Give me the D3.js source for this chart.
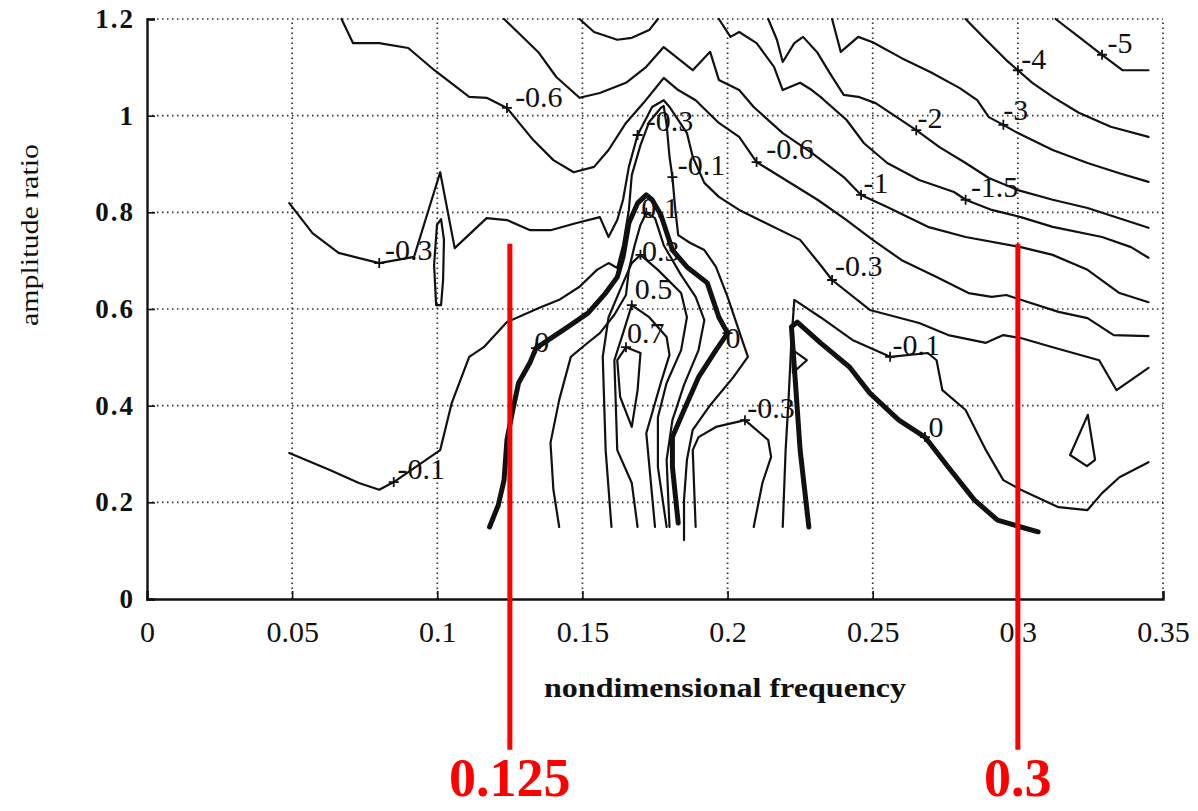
<!DOCTYPE html>
<html><head><meta charset="utf-8">
<script src="https://cdn.jsdelivr.net/npm/d3@7"></script>
<style>body{margin:0;background:#fff}svg{display:block}</style>
</head><body>
<svg id="c" width="1198" height="811"></svg>
<script>
// ---------- data (frequency, amplitude ratio) ----------
const xTicks = [0, 0.05, 0.1, 0.15, 0.2, 0.25, 0.3, 0.35];
const xTickLabels = ["0", "0.05", "0.1", "0.15", "0.2", "0.25", "0.3", "0.35"];
const yTicks = [0, 0.2, 0.4, 0.6, 0.8, 1, 1.2];
const yTickLabels = ["0", "0.2", "0.4", "0.6", "0.8", "1", "1.2"];

const cM06 = [[0.067,1.2],[0.071,1.150],[0.080,1.150],[0.090,1.140],[0.099,1.094],[0.111,1.039],[0.117,1.037],[0.124,1.016],[0.133,0.950],[0.140,0.908],[0.147,0.883],[0.154,0.894],[0.159,0.929],[0.165,0.985],[0.171,1.026],[0.178,1.078],[0.183,1.053],[0.189,1.032],[0.197,0.985],[0.204,0.956],[0.210,0.904],[0.220,0.867],[0.231,0.826],[0.241,0.784],[0.250,0.743],[0.260,0.701],[0.272,0.666],[0.283,0.633],[0.291,0.625],[0.296,0.629],[0.301,0.619],[0.314,0.594],[0.324,0.581],[0.333,0.546],[0.345,0.544]];
const cM1 = [[0.123,1.2],[0.128,1.171],[0.135,1.130],[0.141,1.080],[0.149,1.037],[0.156,1.047],[0.165,1.068],[0.172,1.101],[0.178,1.142],[0.188,1.094],[0.194,1.132],[0.197,1.074],[0.204,1.053],[0.209,1.018],[0.219,0.964],[0.229,0.923],[0.240,0.873],[0.246,0.836],[0.255,0.811],[0.269,0.770],[0.282,0.749],[0.301,0.728],[0.312,0.712],[0.324,0.681],[0.335,0.633],[0.345,0.614]];
const cM15 = [[0.197,1.2],[0.201,1.163],[0.204,1.173],[0.210,1.150],[0.216,1.101],[0.219,1.053],[0.225,1.068],[0.229,1.053],[0.232,1.039],[0.241,0.991],[0.247,0.943],[0.255,0.902],[0.266,0.867],[0.278,0.842],[0.282,0.826],[0.291,0.805],[0.301,0.790],[0.312,0.770],[0.329,0.749],[0.339,0.728],[0.345,0.706]];
const cM15b = [[0.149,1.2],[0.154,1.173],[0.162,1.157],[0.167,1.161],[0.173,1.177],[0.176,1.2]];
const cM2 = [[0.214,1.2],[0.217,1.157],[0.219,1.111],[0.223,1.150],[0.226,1.163],[0.231,1.130],[0.235,1.090],[0.240,1.043],[0.245,1.039],[0.251,1.026],[0.265,0.970],[0.273,0.935],[0.282,0.902],[0.290,0.871],[0.300,0.846],[0.312,0.826],[0.324,0.809],[0.345,0.768]];
const cM3 = [[0.236,1.2],[0.239,1.132],[0.245,1.163],[0.250,1.152],[0.260,1.119],[0.270,1.090],[0.280,1.057],[0.286,1.032],[0.290,0.997],[0.295,0.981],[0.300,0.964],[0.312,0.929],[0.324,0.902],[0.335,0.881],[0.345,0.863]];
const cM4 = [[0.282,1.2],[0.289,1.157],[0.296,1.115],[0.300,1.094],[0.305,1.068],[0.312,1.039],[0.321,1.006],[0.332,0.977],[0.345,0.956]];
const cM5 = [[0.313,1.2],[0.321,1.163],[0.329,1.126],[0.336,1.094],[0.345,1.094]];
const cM03 = [[0.049,0.819],[0.057,0.757],[0.066,0.716],[0.080,0.695],[0.092,0.708],[0.101,0.883],[0.106,0.726],[0.117,0.788],[0.124,0.784],[0.132,0.763],[0.139,0.763],[0.148,0.778],[0.156,0.790],[0.159,0.749],[0.162,0.784],[0.164,0.826],[0.166,0.894],[0.169,0.960],[0.174,1.018],[0.178,1.032],[0.180,1.018],[0.186,0.964],[0.188,0.915],[0.192,0.861],[0.197,0.832],[0.204,0.805],[0.211,0.784],[0.225,0.743],[0.232,0.691],[0.236,0.660],[0.249,0.598],[0.266,0.571],[0.276,0.546],[0.289,0.530],[0.295,0.546],[0.301,0.540],[0.312,0.521],[0.328,0.494],[0.334,0.432],[0.345,0.478]];
const cM03loop = [[0.0996,0.608],[0.0989,0.691],[0.0999,0.774],[0.1013,0.786],[0.1023,0.743],[0.1020,0.660],[0.1013,0.608]];
const cM01L = [[0.049,0.302],[0.063,0.267],[0.073,0.240],[0.080,0.226],[0.085,0.242],[0.101,0.308],[0.105,0.406],[0.111,0.501],[0.116,0.521],[0.124,0.573],[0.135,0.602],[0.142,0.619],[0.149,0.646],[0.155,0.681],[0.159,0.695],[0.162,0.685],[0.164,0.732],[0.166,0.805],[0.167,0.877],[0.170,0.939],[0.173,0.987],[0.177,1.016],[0.178,1.020],[0.179,0.981],[0.180,0.915],[0.181,0.873],[0.182,0.805],[0.183,0.753],[0.187,0.737],[0.192,0.722],[0.196,0.687],[0.200,0.625],[0.205,0.536],[0.207,0.501],[0.202,0.459],[0.194,0.401],[0.188,0.350],[0.186,0.288],[0.185,0.205],[0.185,0.122]];
const c0L = [[0.118,0.149],[0.121,0.194],[0.123,0.246],[0.124,0.329],[0.126,0.391],[0.128,0.447],[0.132,0.490],[0.134,0.519],[0.145,0.563],[0.152,0.592],[0.158,0.633],[0.162,0.666],[0.164,0.708],[0.166,0.778],[0.169,0.819],[0.172,0.836],[0.174,0.826],[0.177,0.795],[0.181,0.722],[0.186,0.687],[0.193,0.654],[0.197,0.583],[0.200,0.550],[0.196,0.515],[0.190,0.459],[0.185,0.391],[0.181,0.335],[0.181,0.273],[0.183,0.157]];
const c01 = [[0.142,0.149],[0.140,0.226],[0.139,0.323],[0.142,0.412],[0.146,0.501],[0.151,0.526],[0.156,0.550],[0.161,0.588],[0.165,0.629],[0.166,0.681],[0.168,0.732],[0.170,0.774],[0.172,0.799],[0.175,0.788],[0.178,0.732],[0.184,0.670],[0.189,0.625],[0.192,0.577],[0.190,0.515],[0.185,0.443],[0.181,0.370],[0.179,0.288],[0.180,0.149]];
const c03 = [[0.160,0.149],[0.158,0.308],[0.157,0.501],[0.159,0.583],[0.164,0.654],[0.167,0.695],[0.170,0.712],[0.176,0.681],[0.184,0.633],[0.186,0.583],[0.184,0.515],[0.179,0.447],[0.176,0.376],[0.176,0.273],[0.179,0.149]];
const c05 = [[0.169,0.149],[0.167,0.240],[0.162,0.308],[0.161,0.494],[0.164,0.550],[0.167,0.608],[0.173,0.583],[0.179,0.542],[0.180,0.505],[0.177,0.447],[0.172,0.343],[0.175,0.149]];
const c07 = [[0.165,0.521],[0.170,0.509],[0.169,0.432],[0.167,0.356],[0.163,0.418],[0.162,0.494]];
const cM03dome = [[0.189,0.149],[0.188,0.308],[0.190,0.335],[0.196,0.356],[0.206,0.370],[0.214,0.329],[0.215,0.294],[0.212,0.240],[0.209,0.149]];
const cM01R = [[0.219,0.149],[0.220,0.308],[0.221,0.412],[0.222,0.536],[0.223,0.619],[0.232,0.583],[0.243,0.536],[0.256,0.501],[0.269,0.509],[0.272,0.494],[0.274,0.432],[0.282,0.391],[0.289,0.308],[0.295,0.246],[0.301,0.226],[0.314,0.190],[0.324,0.184],[0.329,0.219],[0.335,0.252],[0.345,0.283]];
const c0R = [[0.228,0.149],[0.225,0.308],[0.223,0.480],[0.222,0.563],[0.224,0.573],[0.232,0.530],[0.242,0.480],[0.249,0.426],[0.259,0.370],[0.268,0.335],[0.276,0.273],[0.285,0.205],[0.293,0.163],[0.301,0.149],[0.307,0.139]];
const cLoopA = [[0.2225,0.515],[0.2273,0.494],[0.2225,0.468]];
const cLoopB = [[0.3241,0.381],[0.3266,0.288],[0.3238,0.275],[0.318,0.298]];

const openThin = [cM06, cM1, cM15, cM15b, cM2, cM3, cM4, cM5, cM03, cM01L, c01, c03, c05, cM03dome, cM01R];
const openThick = [c0L, c0R];
const closedThin = [cM03loop, c07, cLoopA, cLoopB];

const labelText = ["-0.6","-0.6","-1","-2","-1.5","-3","-4","-5","-0.3","-0.3","-0.1","0.1","0.3","0.5","0.7","0","0","-0.3","-0.1","0","-0.3","-0.1"];
const labelX = [0.135,0.2215,0.2511,0.2697,0.2920,0.2993,0.3055,0.3352,0.0902,0.1800,0.1910,0.1767,0.1770,0.1745,0.1718,0.1360,0.2019,0.2452,0.2650,0.2718,0.2150,0.0945];
const labelY = [1.039,0.933,0.861,0.997,0.854,1.012,1.119,1.152,0.724,0.991,0.898,0.811,0.722,0.643,0.552,0.532,0.542,0.689,0.526,0.356,0.397,0.271];

const markerPts = [[0.124,1.016],[0.210,0.904],[0.246,0.836],[0.265,0.970],[0.282,0.826],[0.295,0.981],[0.300,1.094],[0.329,1.126],[0.080,0.695],[0.169,0.960],[0.181,0.873],[0.172,0.799],[0.170,0.712],[0.167,0.608],[0.165,0.521],[0.134,0.519],[0.200,0.550],[0.236,0.660],[0.256,0.501],[0.268,0.335],[0.206,0.370],[0.085,0.242]];

const refLines = [0.125, 0.3];
const refLabels = ["0.125", "0.3"];
const refTop = 0.735, refBottom = -0.312, refTextY = -0.408;

// ---------- drawing ----------
const svg = d3.select("#c");
const x = d3.scaleLinear().domain([0, 0.35]).range([147, 1163]);
const y = d3.scaleLinear().domain([0, 1.2]).range([599, 19]);
const serif = "'Liberation Serif','DejaVu Serif',serif";

// grid (dotted)
const grid = svg.append("g").attr("stroke", "#333").attr("stroke-width", 1.7).attr("stroke-dasharray", "1.5,3.5");
grid.selectAll(".gx").data(xTicks.slice(1)).join("line")
  .attr("x1", d => x(d)).attr("x2", d => x(d)).attr("y1", y(0)).attr("y2", y(1.2));
grid.selectAll(".gy").data(yTicks.slice(1)).join("line")
  .attr("y1", d => y(d)).attr("y2", d => y(d)).attr("x1", x(0)).attr("x2", x(0.35));

// axes
const xAxis = d3.axisBottom(x).tickValues(xTicks).tickSize(-8).tickFormat((d, i) => xTickLabels[i]).tickPadding(16);
const gx = svg.append("g").attr("transform", `translate(0,${y(0)})`).call(xAxis);
gx.select(".domain").attr("stroke", "#111").attr("stroke-width", 2.4);
gx.selectAll(".tick line").attr("stroke", "#111").attr("stroke-width", 1.6);
gx.selectAll(".tick text").attr("font-family", serif).attr("font-size", 30).attr("fill", "#111").attr("dy", "0.9em");

const yAxis = d3.axisLeft(y).tickValues(yTicks).tickSize(-8).tickFormat((d, i) => yTickLabels[i]).tickPadding(12);
const gy = svg.append("g").attr("transform", `translate(${x(0)},0)`).call(yAxis);
gy.select(".domain").attr("stroke", "#111").attr("stroke-width", 2.4);
gy.selectAll(".tick line").attr("stroke", "#111").attr("stroke-width", 1.6);
gy.selectAll(".tick text").attr("font-family", serif).attr("font-weight", "bold").attr("font-size", 27).attr("fill", "#111").attr("letter-spacing", "2px");

// contours
const line = d3.line().x(d => x(d[0])).y(d => y(d[1]));
const lineClosed = d3.line().x(d => x(d[0])).y(d => y(d[1])).curve(d3.curveLinearClosed);
const cg = svg.append("g").attr("fill", "none").attr("stroke", "#111").attr("stroke-linejoin", "round").attr("stroke-linecap", "round");
cg.selectAll(".thin").data(openThin).join("path").attr("d", line).attr("stroke-width", 2.2);
cg.selectAll(".closed").data(closedThin).join("path").attr("class", "closed").attr("d", lineClosed).attr("stroke-width", 2.2);
cg.selectAll(".thick").data(openThick).join("path").attr("class", "thick").attr("d", line).attr("stroke-width", 5);

// markers
const mg = svg.append("g").attr("stroke", "#111").attr("stroke-width", 1.8);
mg.selectAll("path").data(markerPts).join("path")
  .attr("d", d => `M${x(d[0]) - 5},${y(d[1])}h10M${x(d[0])},${y(d[1]) - 5}v10`);

// contour labels
svg.append("g").selectAll("text").data(labelText).join("text")
  .attr("x", (d, i) => x(labelX[i])).attr("y", (d, i) => y(labelY[i]))
  .attr("text-anchor", "middle").attr("dominant-baseline", "central")
  .attr("font-family", serif).attr("font-size", 30).attr("fill", "#111")
  .text(d => d);

// axis titles
svg.append("text").attr("x", 725).attr("y", 697).attr("text-anchor", "middle")
  .attr("font-family", serif).attr("font-weight", "bold").attr("font-size", 28).attr("fill", "#111")
  .attr("textLength", 362).attr("lengthAdjust", "spacingAndGlyphs")
  .text("nondimensional frequency");
svg.append("text").attr("transform", "translate(38,235) rotate(-90)").attr("text-anchor", "middle")
  .attr("font-family", serif).attr("font-size", 25).attr("fill", "#111")
  .attr("textLength", 182).attr("lengthAdjust", "spacingAndGlyphs")
  .text("amplitude ratio");

// red reference lines
const rg = svg.append("g");
rg.selectAll("line").data(refLines).join("line")
  .attr("x1", d => x(d)).attr("x2", d => x(d)).attr("y1", y(refTop)).attr("y2", y(refBottom))
  .attr("stroke", "#ff0000").attr("stroke-width", 5);
rg.selectAll("text").data(refLines).join("text")
  .attr("x", d => x(d)).attr("y", y(refTextY)).attr("text-anchor", "middle")
  .attr("font-family", serif).attr("font-weight", "bold").attr("font-size", 54).attr("fill", "#ff0000")
  .text((d, i) => refLabels[i]);
</script>
</body></html>
